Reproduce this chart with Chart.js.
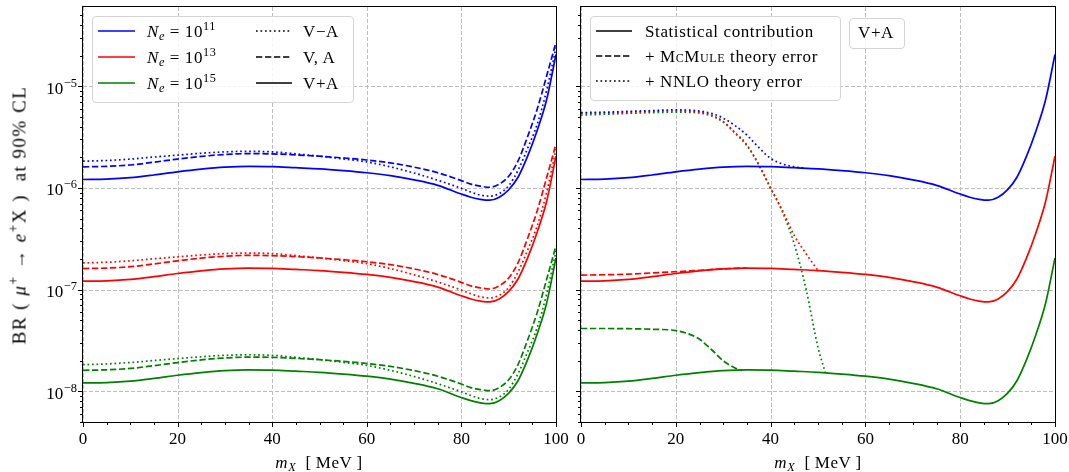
<!DOCTYPE html>
<html>
<head>
<meta charset="utf-8">
<script src="https://cdn.jsdelivr.net/npm/chart.js@4.4.1/dist/chart.umd.min.js"></script>
<style>
  body { margin: 0; background: #fff; }
  #page { position: relative; width: 1069px; height: 472px; overflow: hidden;
          font-family: 'Liberation Serif', serif; font-size: 17px; color: #000; }
  canvas { position: absolute; top: 0; }
  .box { position: absolute; border: 1px solid #d4d4d4; border-radius: 4px; background: rgba(255,255,255,0.85); }
  .smp { position: absolute; }
  .t { position: absolute; white-space: nowrap; transform: translateY(-50%); letter-spacing: 0.6px; line-height: 1; }
  sup, sub { font-size: 0.72em; line-height: 0; }
  sup { vertical-align: 0.55em; }
  sub { vertical-align: -0.3em; }
  .sc { font-variant: small-caps; }
</style>
</head>
<body>
<div id="page">
  <canvas id="left" width="572" height="472" style="left:0;width:572px;height:472px"></canvas>
  <canvas id="right" width="497" height="472" style="left:572px;width:497px;height:472px"></canvas>

  <!-- y title -->
  <div class="t" style="left:19px;top:215px;transform:translate(-50%,-50%) rotate(-90deg);font-size:19px;letter-spacing:1.5px">
    BR ( <i>μ</i><sup>+</sup> → <i>e</i><sup>+</sup>X )&nbsp; at 90% CL
  </div>
  <!-- x titles -->
  <div class="t" style="left:319px;top:462px;transform:translate(-50%,-50%)"><i>m</i><sub><i>X</i></sub>&ensp;[&thinsp;MeV&thinsp;]</div>
  <div class="t" style="left:818px;top:462px;transform:translate(-50%,-50%)"><i>m</i><sub><i>X</i></sub>&ensp;[&thinsp;MeV&thinsp;]</div>

  <!-- left legend -->
  <div class="box" style="left:92px;top:16px;width:260px;height:85px"></div>
  <svg class="smp" style="left:98px;top:25px" width="37" height="12"><line x1="0" y1="6" x2="37" y2="6" stroke="#0000ff" stroke-width="1.7"/></svg>
  <svg class="smp" style="left:98px;top:51px" width="37" height="12"><line x1="0" y1="6" x2="37" y2="6" stroke="#ff0000" stroke-width="1.7"/></svg>
  <svg class="smp" style="left:98px;top:77px" width="37" height="12"><line x1="0" y1="6" x2="37" y2="6" stroke="#008000" stroke-width="1.7"/></svg>
  <div class="t" style="left:147px;top:31px"><i>N</i><sub><i>e</i></sub> = 10<sup>11</sup></div>
  <div class="t" style="left:147px;top:57px"><i>N</i><sub><i>e</i></sub> = 10<sup>13</sup></div>
  <div class="t" style="left:147px;top:83px"><i>N</i><sub><i>e</i></sub> = 10<sup>15</sup></div>
  <svg class="smp" style="left:256px;top:25px" width="36" height="12"><line x1="0" y1="6" x2="36" y2="6" stroke="#000" stroke-width="1.7" stroke-dasharray="1.7 2.8"/></svg>
  <svg class="smp" style="left:256px;top:51px" width="36" height="12"><line x1="0" y1="6" x2="36" y2="6" stroke="#000" stroke-width="1.7" stroke-dasharray="6.3 2.7"/></svg>
  <svg class="smp" style="left:256px;top:77px" width="36" height="12"><line x1="0" y1="6" x2="36" y2="6" stroke="#000" stroke-width="1.7"/></svg>
  <div class="t" style="left:303px;top:31px">V−A</div>
  <div class="t" style="left:303px;top:57px">V, A</div>
  <div class="t" style="left:303px;top:83px">V+A</div>

  <!-- right legend -->
  <div class="box" style="left:590px;top:16px;width:249px;height:83px"></div>
  <svg class="smp" style="left:596px;top:25px" width="36" height="12"><line x1="0" y1="6" x2="36" y2="6" stroke="#000" stroke-width="1.7"/></svg>
  <svg class="smp" style="left:596px;top:50px" width="36" height="12"><line x1="0" y1="6" x2="36" y2="6" stroke="#000" stroke-width="1.7" stroke-dasharray="6.3 2.7"/></svg>
  <svg class="smp" style="left:596px;top:75px" width="36" height="12"><line x1="0" y1="6" x2="36" y2="6" stroke="#000" stroke-width="1.7" stroke-dasharray="1.7 2.8"/></svg>
  <div class="t" style="left:645px;top:31px">Statistical contribution</div>
  <div class="t" style="left:645px;top:56px">+ <span class="sc">McMule</span> theory error</div>
  <div class="t" style="left:645px;top:81px">+ NNLO theory error</div>

  <div class="box" style="left:849px;top:18px;width:54px;height:29px"></div>
  <div class="t" style="left:876px;top:32px;transform:translate(-50%,-50%)">V+A</div>
</div>

<script>
// m_X grid of the read-off points (MeV)
const mX = [0, 5, 10, 15, 20, 25, 30, 35, 40, 45, 50, 55, 60, 65, 70, 75, 80, 82, 84, 86, 88, 90, 92, 94, 96, 98, 100];

// V+A (solid)
const blueVpA  = [1.21e-6, 1.22e-6, 1.26e-6, 1.34e-6, 1.44e-6, 1.53e-6, 1.60e-6, 1.63e-6, 1.62e-6, 1.58e-6, 1.54e-6, 1.48e-6, 1.41e-6, 1.32e-6, 1.20e-6, 1.06e-6, 8.7e-7, 8.1e-7, 7.72e-7, 7.57e-7, 8.1e-7, 9.6e-7, 1.28e-6, 2.05e-6, 3.65e-6, 7.3e-6, 2.05e-5];
const redVpA   = [1.21e-7, 1.22e-7, 1.26e-7, 1.34e-7, 1.44e-7, 1.53e-7, 1.60e-7, 1.63e-7, 1.62e-7, 1.58e-7, 1.54e-7, 1.48e-7, 1.41e-7, 1.32e-7, 1.20e-7, 1.06e-7, 8.7e-8, 8.1e-8, 7.72e-8, 7.57e-8, 8.1e-8, 9.6e-8, 1.28e-7, 2.05e-7, 3.65e-7, 7.3e-7, 2.05e-6];
const greenVpA = [1.21e-8, 1.22e-8, 1.26e-8, 1.34e-8, 1.44e-8, 1.53e-8, 1.60e-8, 1.63e-8, 1.62e-8, 1.58e-8, 1.54e-8, 1.48e-8, 1.41e-8, 1.32e-8, 1.20e-8, 1.06e-8, 8.7e-9, 8.1e-9, 7.72e-9, 7.57e-9, 8.1e-9, 9.6e-9, 1.28e-8, 2.05e-8, 3.65e-8, 7.3e-8, 2.05e-7];

// V, A (dashed)
const blueVA  = [1.61e-6, 1.63e-6, 1.68e-6, 1.79e-6, 1.92e-6, 2.04e-6, 2.13e-6, 2.17e-6, 2.16e-6, 2.11e-6, 2.05e-6, 1.97e-6, 1.88e-6, 1.76e-6, 1.60e-6, 1.41e-6, 1.18e-6, 1.09e-6, 1.04e-6, 1.015e-6, 1.09e-6, 1.30e-6, 1.85e-6, 3.2e-6, 5.9e-6, 1.25e-5, 2.7e-5];
const redVA   = [1.61e-7, 1.63e-7, 1.68e-7, 1.79e-7, 1.92e-7, 2.04e-7, 2.13e-7, 2.17e-7, 2.16e-7, 2.11e-7, 2.05e-7, 1.97e-7, 1.88e-7, 1.76e-7, 1.60e-7, 1.41e-7, 1.18e-7, 1.09e-7, 1.04e-7, 1.015e-7, 1.09e-7, 1.30e-7, 1.85e-7, 3.2e-7, 5.9e-7, 1.25e-6, 2.7e-6];
const greenVA = [1.61e-8, 1.63e-8, 1.68e-8, 1.79e-8, 1.92e-8, 2.04e-8, 2.13e-8, 2.17e-8, 2.16e-8, 2.11e-8, 2.05e-8, 1.97e-8, 1.88e-8, 1.76e-8, 1.60e-8, 1.41e-8, 1.18e-8, 1.09e-8, 1.04e-8, 1.015e-8, 1.09e-8, 1.30e-8, 1.85e-8, 3.2e-8, 5.9e-8, 1.25e-7, 2.7e-7];

// V-A (dotted)
const blueVmA  = [1.83e-6, 1.86e-6, 1.92e-6, 2.01e-6, 2.10e-6, 2.19e-6, 2.26e-6, 2.29e-6, 2.26e-6, 2.16e-6, 2.05e-6, 1.93e-6, 1.80e-6, 1.61e-6, 1.40e-6, 1.19e-6, 9.9e-7, 9.1e-7, 8.5e-7, 8.3e-7, 8.8e-7, 1.05e-6, 1.5e-6, 2.45e-6, 4.2e-6, 9.0e-6, 2.4e-5];
const redVmA   = [1.83e-7, 1.86e-7, 1.92e-7, 2.01e-7, 2.10e-7, 2.19e-7, 2.26e-7, 2.29e-7, 2.26e-7, 2.16e-7, 2.05e-7, 1.93e-7, 1.80e-7, 1.61e-7, 1.40e-7, 1.19e-7, 9.9e-8, 9.1e-8, 8.5e-8, 8.3e-8, 8.8e-8, 1.05e-7, 1.5e-7, 2.45e-7, 4.2e-7, 9.0e-7, 2.4e-6];
const greenVmA = [1.83e-8, 1.86e-8, 1.92e-8, 2.01e-8, 2.10e-8, 2.19e-8, 2.26e-8, 2.29e-8, 2.26e-8, 2.16e-8, 2.05e-8, 1.93e-8, 1.80e-8, 1.61e-8, 1.40e-8, 1.19e-8, 9.9e-9, 9.1e-9, 8.5e-9, 8.3e-9, 8.8e-9, 1.05e-8, 1.5e-8, 2.45e-8, 4.2e-8, 9.0e-8, 2.4e-7];

// right panel: + NNLO theory error (dotted), until it joins the statistical curve
const nnloX = [0, 5, 10, 15, 20, 25, 27.5, 30, 32.5, 35, 37.5, 40, 42.5, 45, 47.5, 50, 51.5];
const blueNNLO  = [5.5e-6, 5.55e-6, 5.65e-6, 5.75e-6, 5.85e-6, 5.7e-6, 5.4e-6, 4.85e-6, 4.1e-6, 3.3e-6, 2.5e-6, 1.95e-6, 1.72e-6, 1.61e-6, 1.565e-6, null, null];
const redNNLO   = [5.4e-6, 5.45e-6, 5.55e-6, 5.65e-6, 5.7e-6, 5.55e-6, 5.2e-6, 4.5e-6, 3.5e-6, 2.65e-6, 1.7e-6, 1.0e-6, 6.0e-7, 3.4e-7, 2.25e-7, 1.54e-7, null];
const greenNNLO = [5.2e-6, 5.3e-6, 5.4e-6, 5.5e-6, 5.55e-6, 5.45e-6, 5.1e-6, 4.45e-6, 3.45e-6, 2.6e-6, 1.68e-6, 9.9e-7, 5.8e-7, 2.8e-7, 1.0e-7, 2.7e-8, 1.55e-8];

// right panel: + McMule theory error (dashed)
const redMcX = [0, 5, 10, 15, 20, 25, 30, 32.5, 35];
const redMcMule = [1.39e-7, 1.40e-7, 1.42e-7, 1.46e-7, 1.50e-7, 1.55e-7, 1.60e-7, 1.62e-7, 1.63e-7];
const greenMcX = [0, 5, 10, 15, 20, 22.5, 25, 27.5, 30, 32.5, 34];
const greenMcMule = [4.15e-8, 4.15e-8, 4.13e-8, 4.08e-8, 3.96e-8, 3.7e-8, 3.25e-8, 2.58e-8, 2.0e-8, 1.70e-8, 1.61e-8];

// axes
const xTicks = [0, 20, 40, 60, 80, 100];
const yDecades = [1e-8, 1e-7, 1e-6, 1e-5];

const FONT = "'Liberation Serif', serif";
const BLUE = '#0000ff', RED = '#ff0000', GREEN = '#008000';
const DASH = { solid: [], dashed: [6.3, 2.7], dotted: [1.7, 2.8] };

function pts(xv, yv) {
  const out = [];
  xv.forEach((x, i) => { if (yv[i] != null) out.push({ x: x, y: yv[i] }); });
  return out;
}

function line(xv, yv, color, style) {
  return {
    data: pts(xv, yv),
    borderColor: color,
    borderWidth: 1.7,
    borderDash: DASH[style],
    pointRadius: 0,
    fill: false,
    cubicInterpolationMode: 'monotone'
  };
}

// grid, frame, tick marks and y labels in matplotlib style
const frame = {
  id: 'frame',
  beforeDatasetsDraw(chart) {
    const { ctx, chartArea: a, scales: { x, y } } = chart;
    ctx.save();
    ctx.strokeStyle = '#bdbdbd';
    ctx.lineWidth = 1;
    ctx.setLineDash([4, 2]);
    xTicks.forEach(v => {
      const px = Math.round(x.getPixelForValue(v)) + 0.5;
      ctx.beginPath(); ctx.moveTo(px, a.top); ctx.lineTo(px, a.bottom); ctx.stroke();
    });
    yDecades.forEach(v => {
      const py = Math.round(y.getPixelForValue(v)) + 0.5;
      ctx.beginPath(); ctx.moveTo(a.left, py); ctx.lineTo(a.right, py); ctx.stroke();
    });
    ctx.restore();
  },
  afterDraw(chart, args, opts) {
    const { ctx, chartArea: a, scales: { x, y } } = chart;
    ctx.save();
    ctx.strokeStyle = '#000';
    ctx.lineWidth = 1;
    ctx.strokeRect(Math.round(a.left) - 0.5, Math.round(a.top) - 0.5,
                   Math.round(a.right - a.left) + 1, Math.round(a.bottom - a.top) + 1);
    // x ticks
    for (let v = 0; v <= 100; v += 5) {
      const px = Math.round(x.getPixelForValue(v)) + 0.5;
      const len = v % 20 === 0 ? 5 : 3;
      ctx.beginPath(); ctx.moveTo(px, a.bottom); ctx.lineTo(px, a.bottom + len); ctx.stroke();
    }
    // y ticks
    for (let d = -9; d <= -5; d++) {
      for (let m = 1; m <= 9; m++) {
        const v = m * Math.pow(10, d);
        if (v < y.min || v > y.max) continue;
        const py = Math.round(y.getPixelForValue(v)) + 0.5;
        const len = m === 1 ? 5 : 3;
        ctx.beginPath(); ctx.moveTo(a.left, py); ctx.lineTo(a.left - len, py); ctx.stroke();
      }
    }
    if (opts.labels) {
      ctx.fillStyle = '#000';
      yDecades.forEach(v => {
        const py = y.getPixelForValue(v);
        const e = '\u2212' + Math.abs(Math.round(Math.log10(v)));
        ctx.font = '12.5px ' + FONT;
        const we = ctx.measureText(e).width;
        const xr = a.left - 6;
        ctx.textAlign = 'left';
        ctx.textBaseline = 'alphabetic';
        ctx.fillText(e, xr - we, py + 0.5);
        ctx.font = '17px ' + FONT;
        ctx.textAlign = 'right';
        ctx.fillText('10', xr - we - 0.5, py + 7.5);
      });
    }
    ctx.restore();
  }
};

function options(yWidth, padRight, labels) {
  return {
    responsive: false,
    animation: false,
    layout: { padding: { top: 7, right: padRight, left: 0, bottom: 0 } },
    plugins: { legend: { display: false }, tooltip: { enabled: false }, frame: { labels: labels } },
    scales: {
      x: {
        type: 'linear', min: 0, max: 100,
        ticks: { stepSize: 20, color: '#000', padding: 7, maxRotation: 0, font: { family: FONT, size: 17 } },
        grid: { display: false, drawTicks: false },
        border: { display: false },
        afterFit(s) { s.height = 50; s.paddingLeft = 0; s.paddingRight = 0; }
      },
      y: {
        type: 'logarithmic', min: 5e-9, max: 6e-5,
        ticks: { display: false },
        grid: { display: false, drawTicks: false },
        border: { display: false },
        afterFit(s) { s.width = yWidth; }
      }
    }
  };
}

new Chart(document.getElementById('left'), {
  type: 'line',
  data: {
    datasets: [
      line(mX, blueVmA, BLUE, 'dotted'),
      line(mX, blueVA, BLUE, 'dashed'),
      line(mX, blueVpA, BLUE, 'solid'),
      line(mX, redVmA, RED, 'dotted'),
      line(mX, redVA, RED, 'dashed'),
      line(mX, redVpA, RED, 'solid'),
      line(mX, greenVmA, GREEN, 'dotted'),
      line(mX, greenVA, GREEN, 'dashed'),
      line(mX, greenVpA, GREEN, 'solid')
    ]
  },
  options: options(83, 16, true),
  plugins: [frame]
});

new Chart(document.getElementById('right'), {
  type: 'line',
  data: {
    datasets: [
      line(mX, blueVpA, BLUE, 'solid'),
      line(nnloX, blueNNLO, BLUE, 'dotted'),
      line(mX, redVpA, RED, 'solid'),
      line(redMcX, redMcMule, RED, 'dashed'),
      line(nnloX, redNNLO, RED, 'dotted'),
      line(mX, greenVpA, GREEN, 'solid'),
      line(greenMcX, greenMcMule, GREEN, 'dashed'),
      line(nnloX, greenNNLO, GREEN, 'dotted')
    ]
  },
  options: options(9, 14, false),
  plugins: [frame]
});
</script>
</body>
</html>
